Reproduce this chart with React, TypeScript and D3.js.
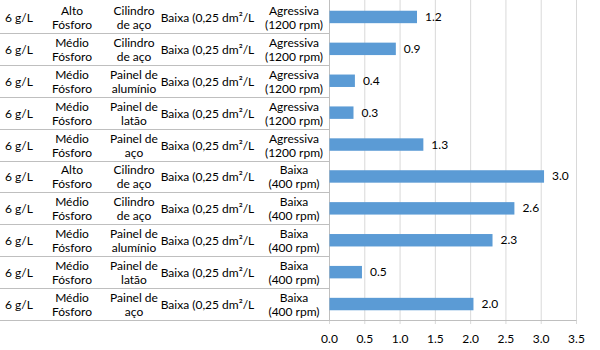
import React from "react";
import * as d3 from "d3";

// category levels (outer to inner) and values
const concentration = ["6 g/L", "6 g/L", "6 g/L", "6 g/L", "6 g/L", "6 g/L", "6 g/L", "6 g/L", "6 g/L", "6 g/L"];
const phosphorus = [
  "Alto Fósforo", "Médio Fósforo", "Médio Fósforo", "Médio Fósforo", "Médio Fósforo",
  "Alto Fósforo", "Médio Fósforo", "Médio Fósforo", "Médio Fósforo", "Médio Fósforo",
];
const substrate = [
  "Cilindro de aço", "Cilindro de aço", "Painel de alumínio", "Painel de latão", "Painel de aço",
  "Cilindro de aço", "Cilindro de aço", "Painel de alumínio", "Painel de latão", "Painel de aço",
];
const loading = [
  "Baixa (0,25 dm²/L", "Baixa (0,25 dm²/L", "Baixa (0,25 dm²/L", "Baixa (0,25 dm²/L", "Baixa (0,25 dm²/L",
  "Baixa (0,25 dm²/L", "Baixa (0,25 dm²/L", "Baixa (0,25 dm²/L", "Baixa (0,25 dm²/L", "Baixa (0,25 dm²/L",
];
const agitation = [
  "Agressiva (1200 rpm)", "Agressiva (1200 rpm)", "Agressiva (1200 rpm)", "Agressiva (1200 rpm)", "Agressiva (1200 rpm)",
  "Baixa (400 rpm)", "Baixa (400 rpm)", "Baixa (400 rpm)", "Baixa (400 rpm)", "Baixa (400 rpm)",
];
const values = [1.24, 0.94, 0.36, 0.34, 1.33, 3.04, 2.62, 2.31, 0.46, 2.04];
const xTicks = [0, 0.5, 1, 1.5, 2, 2.5, 3, 3.5];

// split a label into the two lines the reference wraps it on
const splitLabel = (s) => {
  if (s.startsWith("Agressiva") || s.startsWith("Baixa (4")) {
    const i = s.indexOf(" ");
    return [s.slice(0, i), s.slice(i + 1)];
  }
  if (s.startsWith("Painel de ")) return ["Painel de", s.slice(10)];
  if (s.startsWith("Cilindro ")) return ["Cilindro", s.slice(9)];
  return s.split(" ");
};

export default function App() {
  const width = 600,
    height = 350,
    plotLeft = 329.5,
    plotRight = 576.5,
    plotTop = 1,
    plotBottom = 320;

  const font = "Lato, 'Open Sans', sans-serif";
  const rows = values.map((v, i) => i);

  const x = d3.scaleLinear().domain([0, 3.5]).range([plotLeft, plotRight]);
  const y = d3
    .scaleBand()
    .domain(rows)
    .range([plotTop, plotBottom])
    .paddingInner(0.61)
    .paddingOuter(0.305);
  const band = d3.scaleBand().domain(rows).range([plotTop, plotBottom]);

  // label columns: centre x and which level
  const columns = [
    { cx: 19, labels: concentration, wrap: false },
    { cx: 72, labels: phosphorus, wrap: true },
    { cx: 134, labels: substrate, wrap: true },
    { cx: 207.5, labels: loading, wrap: false },
    { cx: 294, labels: agitation, wrap: true },
  ];

  const gridLines = xTicks.map((t) => (
    <line
      key={"g" + t}
      x1={x(t)}
      x2={x(t)}
      y1={plotTop - 1}
      y2={plotBottom + 4}
      stroke="#d9d9d9"
      strokeWidth={1}
    />
  ));

  const tickTexts = xTicks.map((t) => (
    <text
      key={"t" + t}
      x={x(t)}
      y={340}
      textAnchor="middle"
      dominantBaseline="middle"
      fontSize={12}
      fill="#000"
    >
      {d3.format(".1f")(t)}
    </text>
  ));

  const separators = rows.slice(1).map((i) => (
    <line
      key={"s" + i}
      x1={0}
      x2={plotLeft}
      y1={Math.round(band(i)) + 0.5}
      y2={Math.round(band(i)) + 0.5}
      stroke="#bfbfbf"
      strokeWidth={1}
    />
  ));

  const labels = columns.map((col, ci) =>
    rows.map((i) => {
      const cy = band(i) + band.bandwidth() / 2 + 2;
      const lines = col.wrap ? splitLabel(col.labels[i]) : [col.labels[i]];
      return lines.map((ln, li) => (
        <text
          key={"l" + ci + "-" + i + "-" + li}
          x={col.cx}
          y={cy + (li - (lines.length - 1) / 2) * 14}
          textAnchor="middle"
          dominantBaseline="middle"
          fontSize={12}
          fill="#000"
        >
          {ln}
        </text>
      ));
    })
  );

  const bars = values.map((v, i) => (
    <rect
      key={"b" + i}
      x={x(0)}
      y={y(i)}
      width={x(v) - x(0)}
      height={y.bandwidth()}
      fill="#5b9bd5"
    />
  ));

  const barLabels = values.map((v, i) => (
    <text
      key={"v" + i}
      x={x(v) + 8}
      y={y(i) + y.bandwidth() / 2 + 1}
      dominantBaseline="middle"
      fontSize={12}
      fill="#000"
    >
      {d3.format(".1f")(v)}
    </text>
  ));

  return (
    <svg
      width={width}
      height={height}
      style={{ position: "absolute", left: 0, top: 0, fontFamily: font }}
    >
      <rect width={width} height={height} fill="#fff" />
      <g>{gridLines}</g>
      <g>{separators}</g>
      <line x1={plotLeft} x2={plotLeft} y1={plotTop - 1} y2={plotBottom} stroke="#bfbfbf" />
      <line x1={0} x2={plotRight} y1={plotBottom + 0.5} y2={plotBottom + 0.5} stroke="#bfbfbf" />
      <g>{bars}</g>
      <g>{barLabels}</g>
      <g>{labels}</g>
      <g>{tickTexts}</g>
    </svg>
  );
}
